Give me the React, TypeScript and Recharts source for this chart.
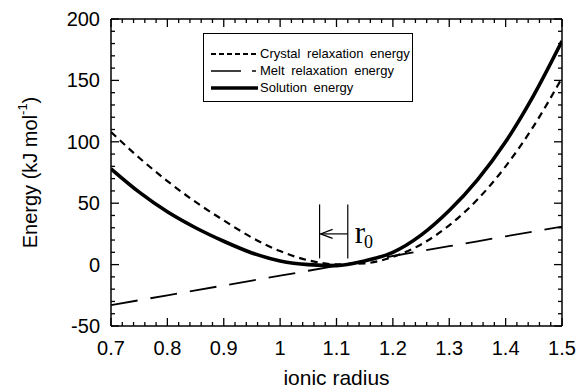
import React from 'react';
import { LineChart, Line, XAxis, YAxis, ReferenceLine, Legend, Label } from 'recharts';

// ---- data ----
const radius = [0.7, 0.75, 0.8, 0.85, 0.9, 0.95, 1.0, 1.05, 1.1, 1.15, 1.2, 1.25, 1.3, 1.35, 1.4, 1.45, 1.5];
const crystalEnergy = [108, 87, 68, 51, 36, 22, 11, 3.5, 0.2, 1, 6.3, 16.4, 32, 53, 80, 113, 152];
const meltEnergy = [-33, -29, -25, -21, -17, -13, -9, -5, -1, 3, 7, 11, 15, 19, 23, 27, 31];
const solutionEnergy = [78, 59, 43, 30, 19, 9.5, 3, 0, -0.8, 3, 10, 24, 44, 69, 100, 138, 182];

const seriesNames = ['Crystal relaxation energy', 'Melt relaxation energy', 'Solution energy'];
const xMajorTicks = [0.7, 0.8, 0.9, 1.0, 1.1, 1.2, 1.3, 1.4, 1.5];
const yMajorTicks = [-50, 0, 50, 100, 150, 200];
const xDomain = [0.7, 1.5];
const yDomain = [-50, 200];
// r0 annotation (radius positions, energy span, arrow height)
const r0Left = 1.07;
const r0Right = 1.12;
const r0Span = [5, 49];
const r0ArrowY = 25;

const xMinorTicks: number[] = [];
for (let i = 0; i <= 40; i++) xMinorTicks.push(Math.round((0.7 + i * 0.02) * 100) / 100);
const yMinorTicks: number[] = [];
for (let v = -50; v <= 200; v += 10) yMinorTicks.push(v);

const table = radius.map((r, i) => ({
  r,
  crystal: crystalEnergy[i],
  melt: meltEnergy[i],
  solution: solutionEnergy[i],
}));

const FONT = '"Liberation Sans", Arial, Helvetica, sans-serif';
const SERIF = '"Liberation Serif", "Times New Roman", serif';
const INK = '#000';

const isMajorX = (v: number) => xMajorTicks.some((m) => Math.abs(m - v) < 1e-6);
const isMajorY = (v: number) => yMajorTicks.some((m) => Math.abs(m - v) < 1e-6);
const fmtX = (v: number) => String(Number(v.toFixed(1)));

const BottomTickLabel = (props: any) => {
  const { x, y, payload } = props;
  return (
    <text x={x} y={y + 29} textAnchor="middle" fontSize={20} fontFamily={FONT} fill={INK}>
      {fmtX(payload.value)}
    </text>
  );
};

const LeftTickLabel = (props: any) => {
  const { x, y, payload } = props;
  return (
    <text x={x - 11} y={y + 7} textAnchor="end" fontSize={20} fontFamily={FONT} fill={INK}>
      {payload.value}
    </text>
  );
};

const XTickMarks = (props: any) => {
  const { x1, y1, y2, major } = props;
  if (x1 == null) return null;
  const top = Math.min(y1, y2);
  const bottom = Math.max(y1, y2);
  const len = major ? 8 : 4;
  return (
    <g>
      <line x1={x1} x2={x1} y1={top} y2={top + len} stroke={INK} strokeWidth={1.3} />
      <line x1={x1} x2={x1} y1={bottom} y2={bottom - len} stroke={INK} strokeWidth={1.3} />
    </g>
  );
};

const YTickMarks = (props: any) => {
  const { x1, x2, y1, major } = props;
  if (y1 == null) return null;
  const left = Math.min(x1, x2);
  const right = Math.max(x1, x2);
  const len = major ? 8 : 4;
  return (
    <g>
      <line x1={left} x2={left + len} y1={y1} y2={y1} stroke={INK} strokeWidth={1.3} />
      <line x1={right} x2={right - len} y1={y1} y2={y1} stroke={INK} strokeWidth={1.3} />
    </g>
  );
};

const YTitle = (props: any) => {
  const vb = props.viewBox || { x: 0, y: 0, width: 0, height: 0 };
  const cx = 30;
  const cy = vb.y + vb.height / 2;
  return (
    <text
      x={cx}
      y={cy}
      transform={`rotate(-90, ${cx}, ${cy})`}
      textAnchor="middle"
      dominantBaseline="central"
      fontSize={20}
      fontFamily={FONT}
      fill={INK}
    >
      Energy (kJ mol
      <tspan dy={-8} fontSize={13}>-1</tspan>
      <tspan dy={8}>)</tspan>
    </text>
  );
};

const XTitle = (props: any) => {
  const vb = props.viewBox || { x: 0, y: 0, width: 0, height: 0 };
  return (
    <text x={vb.x + vb.width / 2} y={385} textAnchor="middle" fontSize={21} fontFamily={FONT} fill={INK}>
      ionic radius
    </text>
  );
};

const ArrowShape = (props: any) => {
  const { x1, y1, x2 } = props;
  if (x1 == null) return null;
  const tipX = Math.min(x1, x2);
  const tailX = Math.max(x1, x2);
  const y = y1;
  return (
    <g>
      <line x1={tailX} x2={tipX + 1} y1={y} y2={y} stroke={INK} strokeWidth={1.2} />
      <polyline
        points={`${tipX + 13},${y - 4.5} ${tipX + 1},${y} ${tipX + 13},${y + 4.5}`}
        fill="none"
        stroke={INK}
        strokeWidth={1.2}
      />
      <text x={tailX + 7} y={y + 9} fontFamily={SERIF} fontSize={31} fill={INK}>
        r<tspan dx={-1} dy={5} fontSize={18}>0</tspan>
      </text>
    </g>
  );
};

const LegendBox = () => {
  const rows = [
    { name: seriesNames[0], dash: '5 3', width: 2 },
    { name: seriesNames[1], dash: '30 11 4 20', width: 1.6 },
    { name: seriesNames[2], dash: undefined, width: 3.5 },
  ];
  const centers = [20, 37, 54];
  return (
    <div
      style={{
        position: 'relative',
        width: 210,
        height: 69,
        border: '1px solid #000',
        boxSizing: 'border-box',
        background: '#fff',
        fontFamily: FONT,
        fontSize: 13,
        color: INK,
      }}
    >
      {rows.map((row, i) => (
        <div
          key={row.name}
          style={{
            position: 'absolute',
            left: 7,
            top: centers[i] - 9,
            height: 18,
            display: 'flex',
            alignItems: 'center',
            whiteSpace: 'nowrap',
            wordSpacing: 3,
          }}
        >
          <svg width={47} height={18} style={{ display: 'block' }}>
            <line x1={0} x2={47} y1={9} y2={9} stroke={INK} strokeWidth={row.width} strokeDasharray={row.dash} />
          </svg>
          <span style={{ marginLeft: 2, lineHeight: '18px' }}>{row.name}</span>
        </div>
      ))}
    </div>
  );
};

export default function App() {
  return (
    <div style={{ position: 'absolute', left: 0, top: 0, width: 588, height: 391 }}>
      <LineChart
        width={588}
        height={391}
        data={table}
        margin={{ top: 19, right: 26, bottom: 25, left: 51 }}
      >
        <XAxis
          dataKey="r"
          type="number"
          domain={xDomain}
          allowDataOverflow
          ticks={xMajorTicks}
          interval={0}
          tickSize={0}
          tickMargin={0}
          tickLine={false}
          axisLine={false}
          tick={<BottomTickLabel />}
          height={40}
        >
          <Label content={<XTitle />} />
        </XAxis>
        <YAxis
          type="number"
          domain={yDomain}
          allowDataOverflow
          ticks={yMajorTicks}
          interval={0}
          tickSize={0}
          tickMargin={0}
          tickLine={false}
          axisLine={false}
          tick={<LeftTickLabel />}
          width={60}
        >
          <Label content={<YTitle />} />
        </YAxis>
        <Legend
          layout="vertical"
          align="center"
          verticalAlign="middle"
          wrapperStyle={{ left: 203, top: 33, width: 210, height: 69 }}
          content={<LegendBox />}
        />
        {/* frame */}
        <ReferenceLine x={xDomain[0]} stroke={INK} strokeWidth={1.5} ifOverflow="visible" />
        <ReferenceLine x={xDomain[1]} stroke={INK} strokeWidth={1.5} ifOverflow="visible" />
        <ReferenceLine y={yDomain[0]} stroke={INK} strokeWidth={1.5} ifOverflow="visible" />
        <ReferenceLine y={yDomain[1]} stroke={INK} strokeWidth={1.5} ifOverflow="visible" />
        {/* inward tick marks on all four sides */}
        {xMinorTicks.map((t) => (
          <ReferenceLine key={`xt${t}`} x={t} ifOverflow="visible" shape={<XTickMarks major={isMajorX(t)} />} />
        ))}
        {yMinorTicks.map((t) => (
          <ReferenceLine key={`yt${t}`} y={t} ifOverflow="visible" shape={<YTickMarks major={isMajorY(t)} />} />
        ))}
        <Line
          dataKey="melt"
          name={seriesNames[1]}
          type="linear"
          stroke={INK}
          strokeWidth={1.8}
          strokeDasharray="27 13"
          dot={false}
          activeDot={false}
          isAnimationActive={false}
        />
        <Line
          dataKey="crystal"
          name={seriesNames[0]}
          type="monotone"
          stroke={INK}
          strokeWidth={2.2}
          strokeDasharray="7 5"
          dot={false}
          activeDot={false}
          isAnimationActive={false}
        />
        <Line
          dataKey="solution"
          name={seriesNames[2]}
          type="monotone"
          stroke={INK}
          strokeWidth={3.6}
          dot={false}
          activeDot={false}
          isAnimationActive={false}
        />
        <ReferenceLine
          segment={[{ x: r0Left, y: r0Span[0] }, { x: r0Left, y: r0Span[1] }]}
          stroke={INK}
          strokeWidth={1.2}
        />
        <ReferenceLine
          segment={[{ x: r0Right, y: r0Span[0] }, { x: r0Right, y: r0Span[1] }]}
          stroke={INK}
          strokeWidth={1.2}
        />
        <ReferenceLine
          segment={[{ x: r0Right, y: r0ArrowY }, { x: r0Left, y: r0ArrowY }]}
          shape={<ArrowShape />}
        />
      </LineChart>
    </div>
  );
}
